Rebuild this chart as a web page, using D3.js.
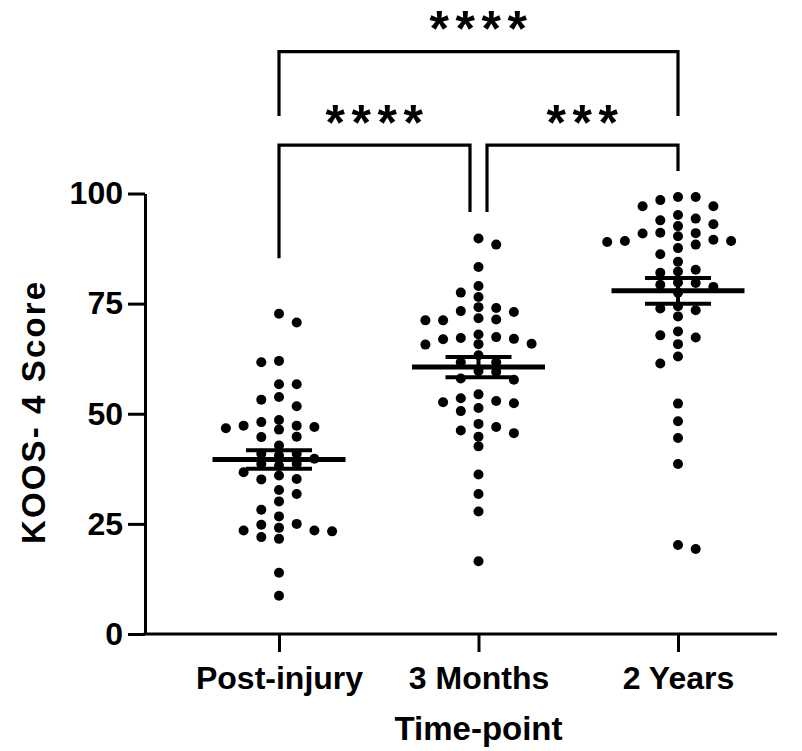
<!DOCTYPE html>
<html>
<head>
<meta charset="utf-8">
<script src="https://cdn.jsdelivr.net/npm/d3@7"></script>
<style>
  body { margin: 0; background: #fff; }
  text { font-family: "Liberation Sans", Arial, sans-serif; font-weight: bold; fill: #000; }
</style>
</head>
<body>
<svg id="chart" width="802" height="751"></svg>
<script>
// ---- data ----
const categories = ["Post-injury", "3 Months", "2 Years"];

const postInjury = [72.7, 70.7, 62.0, 61.7, 56.7, 56.7, 53.8, 53.2, 51.7, 48.1, 47.0, 48.6,
   46.4, 46.7, 47.3, 47.3, 44.7, 44.8, 42.8, 40.9, 39.8, 40.5, 40.9, 38.6, 36.7, 38.2, 38.6,
   36.0, 35.1, 35.2, 32.7, 31.8, 30.1, 28.2, 26.7, 24.8, 25.0, 23.3, 24.1, 23.5, 23.5, 21.6,
   22.0, 13.9, 8.7];

const threeMonths = [89.8, 88.4, 83.3, 79.0, 77.5, 76.5, 73.3, 73.1, 74.2, 74.0, 71.2, 71.2,
   71.7, 71.4, 67.4, 67.0, 68.0, 66.9, 67.2, 65.7, 65.8, 65.9, 63.3, 61.7, 61.7, 59.7, 59.5,
   57.7, 58.0, 54.4, 53.5, 52.6, 52.9, 52.4, 50.6, 51.3, 47.0, 46.2, 47.7, 45.6, 44.8, 42.6,
   36.2, 31.8, 27.8, 16.5];

const twoYears = [99.2, 99.2, 98.5, 97.1, 97.1, 94.3, 93.9, 95.1, 92.6, 93.0, 89.2, 90.3,
   91.0, 91.1, 89.0, 89.5, 90.9, 88.4, 89.2, 87.6, 86.2, 84.5, 82.7, 82.0, 82.3, 79.7, 78.8,
   79.3, 79.8, 77.5, 74.4, 73.5, 73.9, 72.1, 67.8, 68.7, 67.3, 65.8, 63.0, 61.4, 52.3, 48.3,
   44.5, 38.6, 19.3, 20.2];

const groups = [postInjury, threeMonths, twoYears];
const means = [39.6, 60.6, 77.9];
const sems = [2.1, 2.3, 2.9];
const yTicks = [0, 25, 50, 75, 100];

// significance comparisons (category index pairs)
const compFrom = [0, 1, 0];
const compTo = [1, 2, 2];
const compLabel = ["****", "***", "****"];

// ---- layout ----
const svg = d3.select('#chart');

const y = d3.scaleLinear().domain([0, 100]).range([634, 193.5]);
const x = d3.scalePoint().domain(categories).range([279, 678]);

const axisLeftX = 145;
const axisRightX = 777;

// bracket geometry in y units (above the data range)
const bracketTop = [111, 111, 132.2];
const legFrom = [85.3, 95.8, 117.6];
const legTo = [95.8, 105.1, 117.6];

// y axis
const yAxis = svg.append('g')
   .attr('transform', `translate(${axisLeftX},0)`)
   .call(d3.axisLeft(y).tickValues(yTicks).tickSize(17).tickSizeOuter(0).tickPadding(5));
yAxis.select('.domain').attr('stroke-width', 3).attr('stroke', '#000');
yAxis.selectAll('.tick line').attr('stroke-width', 3).attr('stroke', '#000');
yAxis.selectAll('.tick text')
   .attr('font-size', 32)
   .style('font-family', '"Liberation Sans", Arial, sans-serif')
   .style('font-weight', 'bold');

// x axis
const xAxis = svg.append('g')
   .attr('transform', `translate(0,${y(0)})`)
   .call(d3.axisBottom(x).tickSize(18).tickSizeOuter(0).tickPadding(14));
xAxis.select('.domain').remove();
xAxis.append('line')
   .attr('x1', axisLeftX - 1.5).attr('x2', axisRightX)
   .attr('stroke', '#000').attr('stroke-width', 3);
xAxis.selectAll('.tick line').attr('stroke-width', 3).attr('stroke', '#000');
xAxis.selectAll('.tick text')
   .attr('font-size', 32)
   .attr('dy', '0.71em')
   .style('font-family', '"Liberation Sans", Arial, sans-serif')
   .style('font-weight', 'bold');

// axis titles
svg.append('text')
   .attr('x', x(categories[1]))
   .attr('y', 740)
   .attr('text-anchor', 'middle')
   .attr('font-size', 33)
   .text('Time-point');

svg.append('text')
   .attr('transform', 'translate(45,413) rotate(-90)')
   .attr('text-anchor', 'middle')
   .attr('font-size', 33)
   .attr('textLength', 262)
   .attr('lengthAdjust', 'spacing')
   .text('KOOS- 4 Score');

// simple beeswarm: place each point on a half-step lattice without collisions
const step = 17.7;
const rowGap = 9.4;
function swarm(values, cx) {
   const placed = [];
   const sorted = values.slice().sort((a, b) => b - a);
   let flip = 1;
   sorted.forEach((v) => {
      const py = y(v);
      for (let k = 0; k < 30; k++) {
         const cands = k === 0 ? [0] : [flip * k, -flip * k];
         let done = false;
         for (const c of cands) {
            const px = cx + c * step / 2;
            const hit = placed.some(p => Math.abs(p.x - px) < step - 0.5 && Math.abs(p.y - py) < rowGap);
            if (!hit) {
               placed.push({ x: px, y: py, v: v });
               if (k > 0) flip = -flip;
               done = true;
               break;
            }
         }
         if (done) break;
      }
   });
   return placed;
}

groups.forEach((vals, i) => {
   const pts = swarm(vals, x(categories[i]));
   svg.append('g')
      .selectAll('circle')
      .data(pts)
      .enter()
      .append('circle')
      .attr('cx', d => d.x)
      .attr('cy', d => d.y)
      .attr('r', 5)
      .attr('fill', '#000');
});

// mean and SEM
const meanG = svg.append('g').attr('stroke', '#000');
categories.forEach((c, i) => {
   const cx = x(c);
   meanG.append('line')
      .attr('x1', cx - 66.5).attr('x2', cx + 66.5)
      .attr('y1', y(means[i])).attr('y2', y(means[i]))
      .attr('stroke-width', 5);
   meanG.append('line')
      .attr('x1', cx).attr('x2', cx)
      .attr('y1', y(means[i] + sems[i])).attr('y2', y(means[i] - sems[i]))
      .attr('stroke-width', 4);
   [means[i] + sems[i], means[i] - sems[i]].forEach((v) => {
      meanG.append('line')
         .attr('x1', cx - 33).attr('x2', cx + 33)
         .attr('y1', y(v)).attr('y2', y(v))
         .attr('stroke-width', 4);
   });
});

// significance brackets
const brG = svg.append('g');
compFrom.forEach((f, i) => {
   let x1 = x(categories[f]);
   let x2 = x(categories[compTo[i]]);
   // legs sharing a category at the same level are pulled apart
   compFrom.forEach((f2, j) => {
      if (j !== i && bracketTop[j] === bracketTop[i]) {
         if (compTo[i] === f2) x2 -= 8.5;
         if (compTo[j] === f) x1 += 8.5;
      }
   });
   const yt = y(bracketTop[i]);
   brG.append('path')
      .attr('d', `M${x1},${y(legFrom[i])}V${yt}H${x2}V${y(legTo[i])}`)
      .attr('fill', 'none')
      .attr('stroke', '#000')
      .attr('stroke-width', 3.2);
   const fs = 50;
   brG.append('text')
      .attr('x', (x1 + x2) / 2 + 3)
      .attr('y', yt - 29 + 0.47 * fs)
      .attr('text-anchor', 'middle')
      .attr('font-size', fs)
      .attr('letter-spacing', 6.5)
      .text(compLabel[i]);
});
</script>
</body>
</html>
